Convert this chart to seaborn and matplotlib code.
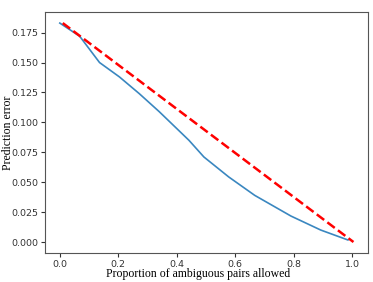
import numpy as np
import pandas as pd
import seaborn as sns
import matplotlib
matplotlib.use('Agg')
import matplotlib.pyplot as plt

# values
prop_allowed = [0.0, 0.068, 0.136, 0.204, 0.272, 0.340, 0.408, 0.442, 0.493, 0.578, 0.667, 0.791, 0.893, 0.986]
pred_error = [0.183, 0.172, 0.150, 0.138, 0.124, 0.109, 0.093, 0.085, 0.0711, 0.0544, 0.039, 0.0217, 0.010, 0.0017]

baseline_x = [0.01, 1.005]
baseline_y = [0.183, 0.0]

df = pd.DataFrame({'prop': prop_allowed, 'err': pred_error})
base = pd.DataFrame({'prop': baseline_x, 'err': baseline_y})

fig = plt.figure(figsize=(3.73, 2.82), dpi=100)
ax = fig.add_axes([0.121, 0.103, 0.866, 0.854])

sns.lineplot(data=df, x='prop', y='err', ax=ax, color='#3a87c0', linewidth=1.2)
sns.lineplot(data=base, x='prop', y='err', ax=ax, color='red', linestyle='--', linewidth=1.8)

ax.set_xticks([0.0, 0.2, 0.4, 0.6, 0.8, 1.0])
ax.set_yticks([0.0, 0.025, 0.05, 0.075, 0.1, 0.125, 0.15, 0.175])
ax.tick_params(labelsize=6.8, colors='#333333', length=3, pad=2)
for s in ax.spines.values():
    s.set_color('#555555')

ax.set_xlabel('Proportion of ambiguous pairs allowed', family='Liberation Serif', fontsize=8.5, labelpad=0)
ax.xaxis.set_label_coords(0.472, -0.064)
ax.set_ylabel('Prediction error', family='Liberation Serif', fontsize=8.5)
ax.yaxis.set_label_coords(-0.097, 0.5)

fig.savefig('out.png', dpi=100)
